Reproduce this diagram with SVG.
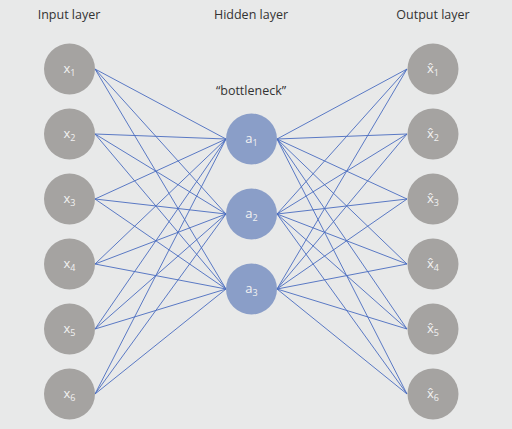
<svg xmlns="http://www.w3.org/2000/svg" width="512" height="429" viewBox="0 0 512 429">
<style>
.t{font-family:"Open Sans","Liberation Sans",sans-serif;font-size:12.5px;fill:#333;text-anchor:middle}
.g{fill:#a5a3a1}
.h{fill:#8a9ec8}
.l{font-family:"Open Sans","Liberation Sans",sans-serif;font-size:13px;fill:#f2f2f2;text-anchor:middle}
.s{font-size:9px}
#edges line{stroke:#4a6cc0;stroke-width:0.9}
</style>
<rect width="512" height="429" fill="#e8e9e9"/>
<text class="t" x="69" y="19">Input layer</text>
<text class="t" x="251" y="19">Hidden layer</text>
<text class="t" x="433" y="19">Output layer</text>
<text class="t" x="251" y="95">“bottleneck”</text>
<g id="edges">
<line x1="95" y1="69" x2="226" y2="139"/><line x1="95" y1="69" x2="226" y2="214"/><line x1="95" y1="69" x2="226" y2="289"/>
<line x1="95" y1="134" x2="226" y2="139"/><line x1="95" y1="134" x2="226" y2="214"/><line x1="95" y1="134" x2="226" y2="289"/>
<line x1="95" y1="199" x2="226" y2="139"/><line x1="95" y1="199" x2="226" y2="214"/><line x1="95" y1="199" x2="226" y2="289"/>
<line x1="95" y1="264" x2="226" y2="139"/><line x1="95" y1="264" x2="226" y2="214"/><line x1="95" y1="264" x2="226" y2="289"/>
<line x1="95" y1="329" x2="226" y2="139"/><line x1="95" y1="329" x2="226" y2="214"/><line x1="95" y1="329" x2="226" y2="289"/>
<line x1="95" y1="394" x2="226" y2="139"/><line x1="95" y1="394" x2="226" y2="214"/><line x1="95" y1="394" x2="226" y2="289"/>
<line x1="277" y1="139" x2="407" y2="69"/><line x1="277" y1="139" x2="407" y2="134"/><line x1="277" y1="139" x2="407" y2="199"/><line x1="277" y1="139" x2="407" y2="264"/><line x1="277" y1="139" x2="407" y2="329"/><line x1="277" y1="139" x2="407" y2="394"/>
<line x1="277" y1="214" x2="407" y2="69"/><line x1="277" y1="214" x2="407" y2="134"/><line x1="277" y1="214" x2="407" y2="199"/><line x1="277" y1="214" x2="407" y2="264"/><line x1="277" y1="214" x2="407" y2="329"/><line x1="277" y1="214" x2="407" y2="394"/>
<line x1="277" y1="289" x2="407" y2="69"/><line x1="277" y1="289" x2="407" y2="134"/><line x1="277" y1="289" x2="407" y2="199"/><line x1="277" y1="289" x2="407" y2="264"/><line x1="277" y1="289" x2="407" y2="329"/><line x1="277" y1="289" x2="407" y2="394"/>
</g>
<g id="x1"><circle class="g" cx="69.5" cy="69" r="25.5"/><text class="l" x="69.5" y="73">x<tspan class="s" dy="3">1</tspan></text></g>
<g id="x2"><circle class="g" cx="69.5" cy="134" r="25.5"/><text class="l" x="69.5" y="138">x<tspan class="s" dy="3">2</tspan></text></g>
<g id="x3"><circle class="g" cx="69.5" cy="199" r="25.5"/><text class="l" x="69.5" y="203">x<tspan class="s" dy="3">3</tspan></text></g>
<g id="x4"><circle class="g" cx="69.5" cy="264" r="25.5"/><text class="l" x="69.5" y="268">x<tspan class="s" dy="3">4</tspan></text></g>
<g id="x5"><circle class="g" cx="69.5" cy="329" r="25.5"/><text class="l" x="69.5" y="333">x<tspan class="s" dy="3">5</tspan></text></g>
<g id="x6"><circle class="g" cx="69.5" cy="394" r="25.5"/><text class="l" x="69.5" y="398">x<tspan class="s" dy="3">6</tspan></text></g>
<g id="a1"><circle class="h" cx="251.5" cy="139" r="25.5"/><text class="l" x="251.5" y="143">a<tspan class="s" dy="3">1</tspan></text></g>
<g id="a2"><circle class="h" cx="251.5" cy="214" r="25.5"/><text class="l" x="251.5" y="218">a<tspan class="s" dy="3">2</tspan></text></g>
<g id="a3"><circle class="h" cx="251.5" cy="289" r="25.5"/><text class="l" x="251.5" y="293">a<tspan class="s" dy="3">3</tspan></text></g>
<g id="y1"><circle class="g" cx="433" cy="69" r="25.5"/><text class="l" x="433" y="73">x̂<tspan class="s" dy="3">1</tspan></text></g>
<g id="y2"><circle class="g" cx="433" cy="134" r="25.5"/><text class="l" x="433" y="138">x̂<tspan class="s" dy="3">2</tspan></text></g>
<g id="y3"><circle class="g" cx="433" cy="199" r="25.5"/><text class="l" x="433" y="203">x̂<tspan class="s" dy="3">3</tspan></text></g>
<g id="y4"><circle class="g" cx="433" cy="264" r="25.5"/><text class="l" x="433" y="268">x̂<tspan class="s" dy="3">4</tspan></text></g>
<g id="y5"><circle class="g" cx="433" cy="329" r="25.5"/><text class="l" x="433" y="333">x̂<tspan class="s" dy="3">5</tspan></text></g>
<g id="y6"><circle class="g" cx="433" cy="394" r="25.5"/><text class="l" x="433" y="398">x̂<tspan class="s" dy="3">6</tspan></text></g>
</svg>
